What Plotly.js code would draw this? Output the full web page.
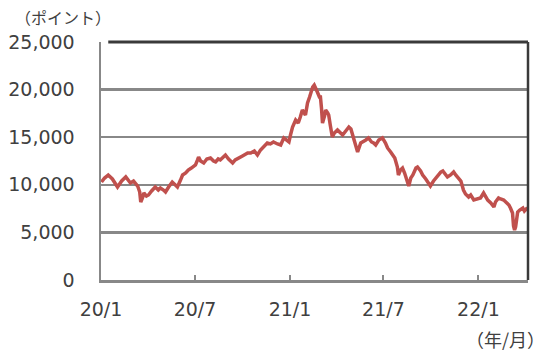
<!DOCTYPE html>
<html>
<head>
<meta charset="utf-8">
<script src="https://cdn.plot.ly/plotly-3.0.1.min.js"></script>
<style>html,body{margin:0;padding:0;background:#fff;}#chart{width:550px;height:358px;}</style>
</head>
<body>
<div id="chart"></div>
<script>
const dates = [
"2020-01-02","2020-01-08","2020-01-15","2020-01-23","2020-02-02","2020-02-10","2020-02-18","2020-02-23","2020-02-27","2020-03-04",
"2020-03-08","2020-03-12","2020-03-16","2020-03-18","2020-03-22","2020-03-24","2020-03-29","2020-04-02","2020-04-08","2020-04-15",
"2020-04-21","2020-04-25","2020-05-01","2020-05-05","2020-05-11","2020-05-18","2020-05-24","2020-05-28","2020-06-03","2020-06-07",
"2020-06-13","2020-06-18","2020-06-24","2020-07-02","2020-07-06","2020-07-08","2020-07-12","2020-07-18","2020-07-24","2020-07-31",
"2020-08-06","2020-08-10","2020-08-15","2020-08-19","2020-08-25","2020-08-29","2020-09-04","2020-09-12","2020-09-17","2020-09-23",
"2020-10-01","2020-10-11","2020-10-17","2020-10-24","2020-10-30","2020-11-05","2020-11-11","2020-11-18","2020-11-24","2020-11-30",
"2020-12-08","2020-12-14","2020-12-20","2020-12-26","2020-12-30","2021-01-02","2021-01-06","2021-01-12","2021-01-17","2021-01-21",
"2021-01-25","2021-01-31","2021-02-04","2021-02-08","2021-02-12","2021-02-14","2021-02-17","2021-02-21","2021-02-23","2021-02-27",
"2021-03-01","2021-03-03","2021-03-05","2021-03-09","2021-03-11","2021-03-15","2021-03-17","2021-03-20","2021-03-24","2021-03-28",
"2021-04-03","2021-04-09","2021-04-13","2021-04-19","2021-04-25","2021-04-29","2021-05-04","2021-05-08","2021-05-12","2021-05-18",
"2021-05-22","2021-05-28","2021-06-02","2021-06-08","2021-06-12","2021-06-16","2021-06-22","2021-06-29","2021-07-05","2021-07-09",
"2021-07-15","2021-07-19","2021-07-23","2021-07-28","2021-07-30","2021-08-03","2021-08-07","2021-08-11","2021-08-15","2021-08-19",
"2021-08-23","2021-08-27","2021-09-02","2021-09-05","2021-09-11","2021-09-15","2021-09-21","2021-09-27","2021-09-30","2021-10-06",
"2021-10-10","2021-10-16","2021-10-20","2021-10-24","2021-10-29","2021-11-02","2021-11-08","2021-11-14","2021-11-18","2021-11-24",
"2021-11-28","2021-12-03","2021-12-07","2021-12-13","2021-12-17","2021-12-23","2021-12-29","2022-01-05","2022-01-11","2022-01-15",
"2022-01-19","2022-01-25","2022-01-31","2022-02-03","2022-02-09","2022-02-13","2022-02-19","2022-02-25","2022-03-01","2022-03-04",
"2022-03-08","2022-03-10","2022-03-12","2022-03-14","2022-03-16","2022-03-18","2022-03-22","2022-03-28","2022-03-31","2022-04-06"
];
const indexValues = [
10290,10710,11030,10610,9770,10400,10820,10500,10190,10400,
10190,9870,9240,8190,8720,9140,8820,8930,9350,9770,
9450,9660,9450,9240,9770,10290,9980,9770,10500,11030,
11240,11550,11760,12080,12610,12920,12500,12290,12710,12820,
12500,12400,12710,12610,12920,13130,12710,12290,12610,12820,
13030,13340,13340,13550,13130,13660,13970,14390,14290,14500,
14290,14180,14920,14600,14500,15230,16070,16810,16490,17120,
17860,17330,18590,19220,19960,20270,20480,20060,19750,19220,
19220,18070,16490,17230,17860,17540,17330,16280,15020,15440,
15760,15440,15230,15650,16070,15860,14920,14180,13450,14390,
14500,14710,14920,14500,14390,14180,14710,14920,14390,13870,
13450,13130,12820,11870,11030,11550,11760,11240,10500,9870,
10710,11030,11760,11870,11450,11030,10610,10190,9870,10400,
10710,11130,11340,11450,11030,10820,11030,11340,11030,10710,
10400,9450,9030,8720,8930,8400,8510,8610,9140,8720,
8400,8090,7670,8190,8610,8510,8400,8090,7880,7560,
7040,5670,5250,5570,6300,7140,7350,7560,7250,7600
];
const xTickVals = ["2020-01-01","2020-07-01","2021-01-01","2021-07-01","2022-01-01"];
const xTickText = ["20/1","20/7","21/1","21/7","22/1"];
const yTickVals = [0,5000,10000,15000,20000,25000];
const yTickText = ["0","5,000","10,000","15,000","20,000","25,000"];

const trace = {
  x: dates, y: indexValues, type: 'scatter', mode: 'lines',
  line: {color: '#C0504D', width: 3.5}, hoverinfo: 'skip'
};
const layout = {
  width: 550, height: 358,
  margin: {l: 101, r: 22, t: 42, b: 78},
  paper_bgcolor: '#fff', plot_bgcolor: '#fff',
  showlegend: false,
  font: {family: 'DejaVu Sans, Verdana, sans-serif', size: 19, color: '#404040'},
  xaxis: {
    type: 'date', range: ['2020-01-01', '2022-04-07'],
    tickmode: 'array', tickvals: xTickVals, ticktext: xTickText,
    ticks: 'inside', ticklen: 5, tickwidth: 2, tickcolor: '#888',
    showgrid: false, zeroline: false,
    showline: true, linecolor: '#888', linewidth: 2.5,
    ticklabelstandoff: 11,
    tickfont: {size: 19, color: '#404040'}
  },
  yaxis: {
    range: [0, 25000], tickmode: 'array', tickvals: yTickVals, ticktext: yTickText,
    ticks: '', showgrid: true, gridcolor: '#888', gridwidth: 2.5,
    zeroline: false, showline: true, linecolor: '#888', linewidth: 2.5,
    ticklabelstandoff: 20,
    tickfont: {size: 19, color: '#404040'}
  },
  shapes: [
    {type: 'line', xref: 'paper', yref: 'paper', x0: 0.017, x1: 1, y0: 1, y1: 1,
     line: {color: '#3a3a3a', width: 3}},
    {type: 'line', xref: 'paper', yref: 'paper', x0: 1, x1: 1, y0: 0, y1: 1,
     line: {color: '#3a3a3a', width: 2.5}}
  ],
  annotations: [
    {text: '（ポイント）', xref: 'paper', yref: 'paper', x: 0, y: 1, xanchor: 'right', yanchor: 'middle',
     xshift: 12, yshift: 25, showarrow: false,
     font: {family: 'Noto Sans CJK JP', size: 16, color: '#404040'}},
    {text: '（年/月）', xref: 'paper', yref: 'paper', x: 1, y: 0, xanchor: 'right', yanchor: 'middle',
     xshift: 19, yshift: -59, showarrow: false,
     font: {family: 'Noto Sans CJK JP', size: 18, color: '#404040'}}
  ]
};
Plotly.newPlot('chart', [trace], layout, {staticPlot: true, displayModeBar: false});
</script>
</body>
</html>
